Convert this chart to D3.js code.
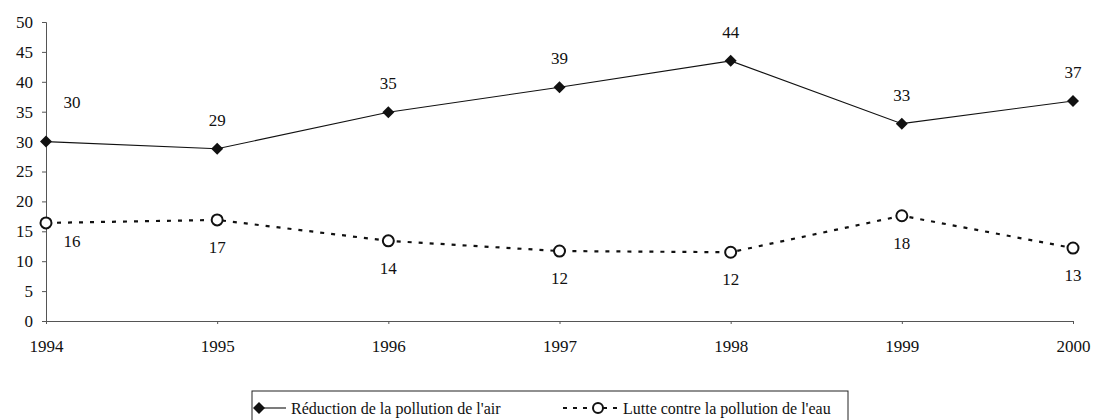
<!DOCTYPE html>
<html><head><meta charset="utf-8">
<script src="https://cdn.jsdelivr.net/npm/d3@7"></script>
<style>
* { font-family: 'Liberation Serif', 'Times New Roman', serif !important; }
</style>
</head>
<body style="margin:0">
<svg id="chart" width="1094" height="420"></svg>
<script>
const years = ["1994","1995","1996","1997","1998","1999","2000"];
const airValues = [30.0, 28.8, 34.9, 39.1, 43.5, 33.0, 36.8];
const airLabels = ["30","29","35","39","44","33","37"];
const waterValues = [16.4, 16.9, 13.4, 11.7, 11.5, 17.6, 12.2];
const waterLabels = ["16","17","14","12","12","18","13"];
const yTicks = [0,5,10,15,20,25,30,35,40,45,50];
const seriesNames = ["Réduction de la pollution de l'air", "Lutte contre la pollution de l'eau"];

const svg = d3.select("#chart");
const x = d3.scalePoint().domain(years).range([46, 1073]);
const y = d3.scaleLinear().domain([0, 50]).range([321, 22]);

function serif(sel, size) {
  sel.style("font-family", "'Liberation Serif'")
     .style("font-size", size + "px")
     .attr("fill", "#111");
}

const yAxis = svg.append("g").attr("transform","translate(46,0)")
  .call(d3.axisLeft(y).tickValues(yTicks).tickSize(4).tickPadding(9));
yAxis.attr("font-family", null).attr("font-size", null);
serif(yAxis.selectAll("text"), 17);
yAxis.select(".domain").attr("stroke","#555");
yAxis.selectAll(".tick line").attr("stroke","#555");

const xAxis = svg.append("g").attr("transform","translate(0,321)")
  .call(d3.axisBottom(x).tickSize(3).tickPadding(16).tickSizeOuter(0));
xAxis.attr("font-family", null).attr("font-size", null);
serif(xAxis.selectAll("text"), 17);
xAxis.select(".domain").attr("stroke","#555");
xAxis.selectAll(".tick line").attr("stroke","#555");

const airData = years.map((d,i)=>({year:d, v:airValues[i], label:airLabels[i]}));
const waterData = years.map((d,i)=>({year:d, v:waterValues[i], label:waterLabels[i]}));
const line = d3.line().x(d=>x(d.year)).y(d=>y(d.v));

svg.append("path").datum(airData).attr("d",line)
  .attr("fill","none").attr("stroke","#111").attr("stroke-width",1.1);
svg.append("path").datum(waterData).attr("d",line)
  .attr("fill","none").attr("stroke","#111").attr("stroke-width",2.2)
  .attr("stroke-dasharray","4,7");

const diamond = d3.symbol().type(d3.symbolSquare).size(72);
svg.selectAll(".dia").data(airData).enter().append("path")
  .attr("d",diamond()).attr("transform",d=>`translate(${x(d.year)},${y(d.v)}) rotate(45)`)
  .attr("fill","#111");
svg.selectAll(".circ").data(waterData).enter().append("circle")
  .attr("cx",d=>x(d.year)).attr("cy",d=>y(d.v)).attr("r",5.5)
  .attr("fill","#fff").attr("stroke","#111").attr("stroke-width",2);

const al = svg.selectAll(".alab").data(airData).enter().append("text")
  .attr("x",(d,i)=>x(d.year)+(i===0?26:0))
  .attr("y",(d,i)=>y(d.v)-(i===0?40:29))
  .attr("dy","0.35em").attr("text-anchor","middle");
serif(al, 17);
al.text(d=>d.label);
const wl = svg.selectAll(".wlab").data(waterData).enter().append("text")
  .attr("x",(d,i)=>x(d.year)+(i===0?26:0))
  .attr("y",(d,i)=>y(d.v)+(i===0?18:27))
  .attr("dy","0.35em").attr("text-anchor","middle");
serif(wl, 17);
wl.text(d=>d.label);

const lg = svg.append("g");
lg.append("rect").attr("x",252).attr("y",391).attr("width",596).attr("height",40)
  .attr("fill","none").attr("stroke","#222").attr("stroke-width",1);
lg.append("line").attr("x1",258).attr("x2",286).attr("y1",408).attr("y2",408)
  .attr("stroke","#111").attr("stroke-width",1.1);
lg.append("path").attr("d",diamond()).attr("transform","translate(259,408) rotate(45)").attr("fill","#111");
const t1 = lg.append("text").attr("x",291).attr("y",408).attr("dy","0.35em");
serif(t1, 16); t1.text(seriesNames[0]);
lg.append("line").attr("x1",563).attr("x2",622).attr("y1",408).attr("y2",408)
  .attr("stroke","#111").attr("stroke-width",2.2).attr("stroke-dasharray","4,6");
lg.append("circle").attr("cx",598).attr("cy",408).attr("r",5).attr("fill","#fff").attr("stroke","#111").attr("stroke-width",2);
const t2 = lg.append("text").attr("x",623).attr("y",408).attr("dy","0.35em");
serif(t2, 16); t2.text(seriesNames[1]);
</script>
</body></html>
